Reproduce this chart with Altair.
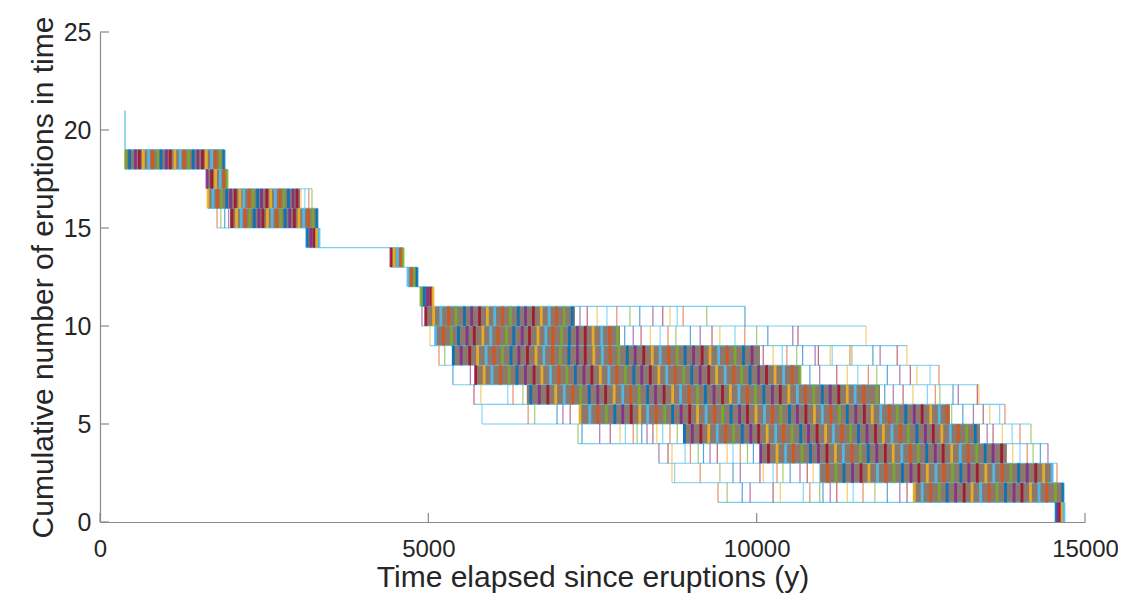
import altair as alt
import pandas as pd

# ---------------- data ----------------
X_TICKS = [0, 5000, 10000, 15000]
Y_TICKS = [0, 5, 10, 15, 20, 25]
PALETTE = ["#0072BD", "#D95319", "#EDB120", "#7E2F8E", "#77AC30", "#4DBEEE", "#A2142F"]

# Times (y) of the step from level k+1 down to level k, for each band k
B18 = [390, 450, 540, 600, 660, 740, 800, 880, 930, 1010, 1070, 1140, 1220, 1280, 1350,
       1420, 1490, 1560, 1620, 1700, 1760, 1830, 1888]
B17 = [1629, 1700, 1760, 1830, 1890, 1934]
B16 = [1645, 1720, 1790, 1850, 1930, 1990, 2060, 2130, 2190, 2270, 2330, 2400, 2460, 2540,
       2600, 2670, 2740, 2800, 2870, 2940, 3000, 3060, 3120, 3180, 3228]
B15 = [1782, 1840, 1900, 1960, 2010, 2080, 2150, 2210, 2280, 2350, 2420, 2480, 2550, 2620,
       2690, 2750, 2820, 2890, 2960, 3030, 3100, 3170, 3240, 3304]
B14 = [3152, 3210, 3260, 3300, 3335]
B13 = [4431, 4480, 4530, 4580, 4614]
B12 = [4690, 4740, 4790, 4827]
B11 = [4888, 4940, 4990, 5040, 5071]
B10 = [4903, 4960, 5080, 5190, 5310, 5420, 5550, 5660, 5780, 5900, 6010, 6130, 6250, 6370,
       6480, 6600, 6720, 6840, 6950, 7070, 7190, 7310, 7420, 7570, 7720, 7870, 8070, 8220,
       8420, 8570, 8680, 8790, 8880, 9240, 9822]
B9 = [5025, 5110, 5230, 5350, 5460, 5590, 5700, 5830, 5950, 6060, 6190, 6300, 6430, 6540,
      6670, 6790, 6900, 7030, 7150, 7270, 7390, 7510, 7640, 7760, 7880, 7990, 8120, 8240,
      8380, 8530, 8650, 8770, 8990, 9140, 9320, 9440, 9670, 9820, 10000, 10170, 10550,
      10630, 11665]
B8 = [5162, 5250, 5380, 5500, 5630, 5750, 5880, 6000, 6130, 6260, 6380, 6510, 6640, 6760,
      6890, 7010, 7140, 7270, 7390, 7520, 7650, 7770, 7900, 8030, 8150, 8280, 8410, 8530,
      8660, 8790, 8910, 9040, 9170, 9290, 9420, 9550, 9670, 9800, 9930, 10100, 10250,
      10390, 10460, 10610, 10700, 10890, 10940, 11120, 11150, 11420, 11450, 11770, 11880,
      12140, 12289]
B7 = [5375, 5640, 5720, 5850, 5970, 6100, 6230, 6350, 6480, 6610, 6730, 6860, 6990, 7110,
      7240, 7370, 7490, 7620, 7750, 7870, 8000, 8130, 8250, 8380, 8510, 8630, 8760, 8890,
      9010, 9140, 9270, 9390, 9520, 9650, 9770, 9900, 10030, 10150, 10280, 10410, 10540,
      10660, 10810, 10960, 11220, 11380, 11540, 11700, 11830, 11990, 12180, 12340, 12440,
      12640, 12776]
B6 = [5695, 5800, 6210, 6290, 6440, 6560, 6690, 6820, 6940, 7070, 7200, 7320, 7450, 7580,
      7700, 7830, 7960, 8080, 8210, 8340, 8460, 8590, 8720, 8840, 8970, 9100, 9220, 9350,
      9480, 9600, 9730, 9860, 9980, 10110, 10240, 10360, 10490, 10620, 10740, 10870, 11000,
      11120, 11250, 11380, 11500, 11630, 11830, 11950, 12080, 12230, 12380, 12600, 12720,
      12790, 12990, 13070, 13360, 13385]
B5 = [5817, 6520, 6620, 6960, 7050, 7160, 7310, 7460, 7580, 7710, 7840, 7960, 8090, 8220,
      8340, 8470, 8600, 8720, 8850, 8980, 9100, 9230, 9360, 9480, 9610, 9740, 9860, 9990,
      10120, 10240, 10370, 10500, 10620, 10750, 10880, 11000, 11130, 11260, 11380, 11510,
      11640, 11760, 11890, 12020, 12140, 12270, 12400, 12520, 12650, 12780, 12900, 12970,
      13140, 13300, 13450, 13550, 13700, 13781]
B4 = [7279, 7340, 7610, 7770, 7920, 8000, 8120, 8180, 8250, 8330, 8420, 8480, 8570, 8680,
      8790, 8900, 9020, 9150, 9270, 9400, 9530, 9650, 9780, 9910, 10030, 10160, 10290,
      10410, 10540, 10670, 10790, 10920, 11050, 11170, 11300, 11430, 11550, 11680, 11810,
      11930, 12060, 12190, 12310, 12440, 12570, 12690, 12820, 12950, 13070, 13200, 13330,
      13510, 13600, 13740, 13890, 14010, 14177]
B3 = [8512, 8650, 8710, 8910, 8990, 9110, 9190, 9290, 9400, 9550, 9640, 9750, 9860, 9950,
      10060, 10180, 10310, 10440, 10560, 10690, 10820, 10940, 11070, 11200, 11320, 11450,
      11580, 11700, 11830, 11960, 12080, 12210, 12340, 12460, 12590, 12720, 12840, 12970,
      13100, 13220, 13350, 13480, 13600, 13730, 13900, 14010, 14120, 14210, 14320, 14436]
B2 = [8710, 8750, 9140, 9440, 9640, 9750, 10050, 10100, 10250, 10310, 10400, 10510, 10660,
      10770, 10860, 10960, 11080, 11210, 11330, 11460, 11590, 11710, 11840, 11970, 12090,
      12220, 12350, 12470, 12600, 12730, 12850, 12980, 13110, 13230, 13360, 13490, 13610,
      13740, 13870, 13990, 14120, 14250, 14370, 14500, 14573]
B1 = [9411, 9550, 9780, 9900, 10250, 10360, 10710, 10810, 10960, 11010, 11120, 11220, 11380,
      11470, 11620, 11800, 11990, 12180, 12290, 12400, 12520, 12650, 12780, 12900, 13030,
      13160, 13280, 13410, 13540, 13660, 13790, 13920, 14040, 14170, 14300, 14420, 14550,
      14664]
B0 = [14560, 14590, 14620, 14650, 14680]

BAND_LEVELS = [18, 17, 16, 15, 14, 13, 12, 11, 10, 9, 8, 7, 6, 5, 4, 3, 2, 1, 0]
BAND_TIMES = [B18, B17, B16, B15, B14, B13, B12, B11, B10, B9, B8, B7, B6, B5, B4, B3, B2, B1, B0]

# Densely over-plotted part of each band (start, end in years)
CORE_START = [381, 1629, 1645, 1980, 3152, 4431, 4690, 4888, 4950, 5100, 5360, 5710, 6500,
              7300, 8880, 10050, 10964, 12380, 14558]
CORE_END = [1888, 1934, 3046, 3304, 3335, 4614, 4827, 5071, 7233, 7919, 10050, 10660, 11878,
            12944, 13400, 13810, 14512, 14664, 14680]

# single realisation starting at 21 eruptions
SPIKE_X = [381]
SPIKE_TOP = [21]
SPIKE_BOTTOM = [19]

# ---------------- tables ----------------
stripe_rows = []
core_rows = []
for bi, (lvl, times) in enumerate(zip(BAND_LEVELS, BAND_TIMES)):
    c0, c1 = CORE_START[bi], CORE_END[bi]
    core_rows.append({"x": c0, "x2": c1, "lo": lvl, "hi": lvl + 1})
    for j, t in enumerate(times):
        inside = c0 <= t <= c1
        stripe_rows.append({
            "x": t, "lo": lvl, "hi": lvl + 1,
            "col": PALETTE[(j * 3 + lvl) % 7],
            "w": 2.8 if inside else 1.2,
            "op": 0.9 if inside else 0.65,
        })
stripes = pd.DataFrame(stripe_rows)
cores = pd.DataFrame(core_rows)

band_min = {lvl: min(t) for lvl, t in zip(BAND_LEVELS, BAND_TIMES)}
band_max = {lvl: max(t) for lvl, t in zip(BAND_LEVELS, BAND_TIMES)}
band_min[19] = SPIKE_X[0]
h_rows = []
for lvl in range(1, 20):
    h_rows.append({"x": band_min[lvl], "x2": band_max[lvl - 1], "y": lvl})
hlines = pd.DataFrame(h_rows)

spike = pd.DataFrame({"x": SPIKE_X, "lo": SPIKE_BOTTOM, "hi": SPIKE_TOP})

FONT = "Liberation Sans"
AX = "#8a8a8a"
TXT = "#262626"
W, H = 985, 490

xs = alt.Scale(domain=[0, 15000], nice=False)
ys = alt.Scale(domain=[0, 25], nice=False)

x_axis = alt.Axis(values=X_TICKS, ticks=False, grid=False, domainColor=AX, domainWidth=1.2,
                  labelFont=FONT, labelFontSize=24, labelColor=TXT, labelPadding=15,
                  labelFlush=False, labelOverlap=False, format="d",
                  title="Time elapsed since eruptions (y)", titleFont=FONT, titleFontSize=30,
                  titleFontWeight="normal", titleColor=TXT, titlePadding=1)
y_axis = alt.Axis(values=Y_TICKS, ticks=False, grid=False, domainColor=AX, domainWidth=1.2,
                  labelFont=FONT, labelFontSize=25, labelColor=TXT, labelPadding=9,
                  labelFlush=False, labelOverlap=False,
                  title="Cumulative number of eruptions in time", titleFont=FONT,
                  titleFontSize=30, titleFontWeight="normal", titleColor=TXT, titlePadding=5)

core_layer = alt.Chart(cores).mark_rect(color="#80695c", opacity=0.9).encode(
    x=alt.X("x:Q", scale=xs, axis=x_axis),
    x2="x2:Q",
    y=alt.Y("lo:Q", scale=ys, axis=y_axis),
    y2="hi:Q",
)

h_layer = alt.Chart(hlines).mark_rule(color="#4DBEEE", strokeWidth=1.1, opacity=0.75).encode(
    x=alt.X("x:Q", scale=xs), x2="x2:Q", y=alt.Y("y:Q", scale=ys)
)

stripe_layer = alt.Chart(stripes).mark_rule().encode(
    x=alt.X("x:Q", scale=xs),
    y=alt.Y("lo:Q", scale=ys),
    y2="hi:Q",
    color=alt.Color("col:N", scale=None, legend=None),
    strokeWidth=alt.StrokeWidth("w:Q", scale=None, legend=None),
    opacity=alt.Opacity("op:Q", scale=None, legend=None),
)

spike_layer = alt.Chart(spike).mark_rule(color="#4DBEEE", strokeWidth=1.2).encode(
    x=alt.X("x:Q", scale=xs), y=alt.Y("lo:Q", scale=ys), y2="hi:Q"
)

xt = alt.Chart(pd.DataFrame({"t": X_TICKS})).mark_rule(color=AX, strokeWidth=1.2).encode(
    x=alt.X("t:Q", scale=xs), y=alt.value(H), y2=alt.value(H - 9)
)
yt = alt.Chart(pd.DataFrame({"t": Y_TICKS})).mark_rule(color=AX, strokeWidth=1.2).encode(
    y=alt.Y("t:Q", scale=ys), x=alt.value(0), x2=alt.value(9)
)

chart = alt.layer(core_layer, h_layer, stripe_layer, spike_layer, xt, yt).properties(
    width=W, height=H,
    autosize=alt.AutoSizeParams(type="none"),
    padding={"left": 92, "top": 24, "right": 33, "bottom": 76},
).configure_view(stroke=None)

chart.save("out.html", embed_options={"renderer": "svg", "actions": False})
